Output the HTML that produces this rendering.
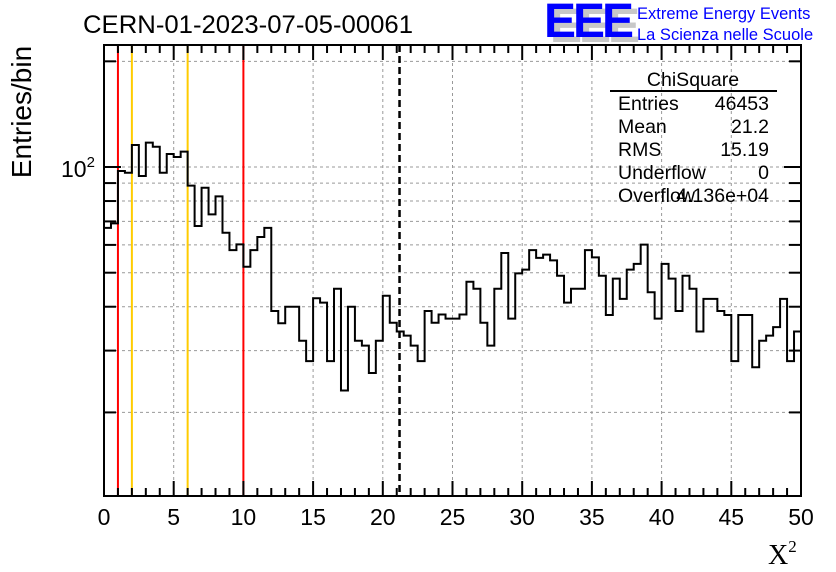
<!DOCTYPE html>
<html><head><meta charset="utf-8"><style>
html,body{margin:0;padding:0;background:#fff;}
svg{display:block;font-family:"Liberation Sans",sans-serif;}
</style></head><body>
<svg id="chart" width="836" height="572" viewBox="0 0 836 572">
<rect width="836" height="572" fill="#fff"/>
<g id="grid"></g>
<g id="vlines"></g>
<path id="hist" fill="none" stroke="#000" stroke-width="2"/>
<g id="axes"></g>
<text x="83" y="33" font-size="25" textLength="330" lengthAdjust="spacingAndGlyphs">CERN-01-2023-07-05-00061</text>
<text transform="translate(31,112) rotate(-90)" text-anchor="middle" font-size="28">Entries/bin</text>
<text x="768" y="564" font-family="Liberation Serif,serif" font-size="28">X<tspan dy="-12" font-size="17">2</tspan></text>
<g>
<text x="550" y="42" font-size="48" font-weight="bold" fill="#c8c8c8" letter-spacing="-3">EEE</text>
<text x="544" y="37" font-size="48" font-weight="bold" fill="#0000ff" letter-spacing="-3">EEE</text>
<text x="637" y="19" font-size="16.5" fill="#0000ff">Extreme Energy Events</text>
<text x="637" y="40" font-size="16.5" fill="#0000ff">La Scienza nelle Scuole</text>
</g>
<g font-size="19.5">
<text x="693" y="86" text-anchor="middle">ChiSquare</text>
<line x1="610" y1="91" x2="777" y2="91" stroke="#000" stroke-width="2"/>
<text x="618" y="110">Entries</text><text x="769" y="110" text-anchor="end">46453</text>
<text x="618" y="133">Mean</text><text x="769" y="133" text-anchor="end">21.2</text>
<text x="618" y="156">RMS</text><text x="769" y="156" text-anchor="end">15.19</text>
<text x="618" y="179">Underflow</text><text x="769" y="179" text-anchor="end">0</text>
<text x="618" y="202">Overflow</text><text x="769" y="202" text-anchor="end">4.136e+04</text>
</g>
</svg>
<script>
const counts=[67.1,69.1,97.4,96.3,115.5,94.3,117.3,114.2,96.3,108.9,106.8,110.6,88.5,67.9,87.3,73.3,82.5,65.0,58.0,60.2,
52.0,58.0,63.2,67.1,38.9,35.9,40.0,40.0,32.0,28.0,42.3,41.1,28.0,45.0,23.1,40.0,32.0,31.0,25.9,32.0,
43.0,36.0,34.0,33.1,31.0,28.0,38.9,36.0,38.0,37.0,37.0,38.0,47.1,45.0,36.0,31.0,45.0,56.9,37.0,49.8,
51.0,58.0,55.1,56.3,54.2,49.0,41.1,45.0,45.0,58.0,55.3,49.0,37.9,48.1,42.1,51.0,53.0,60.1,44.0,37.0,
53.0,48.1,38.9,49.0,45.0,34.0,42.1,42.1,38.9,37.9,28.0,37.9,37.9,26.9,32.0,33.1,35.0,42.1,28.0,34.0];
const xTicks=[0,5,10,15,20,25,30,35,40,45,50];
const yGridVals=[20,30,40,50,60,70,80,90,100,200];
const redLines=[1,10];
const orangeLines=[2,6];
const meanLine=[21.2];
const X0=104,X1=801,Y0=45,Y1=496,XMIN=0,XMAX=50,YMIN=11.56,YMAX=222.6,BW=0.5;
const sx=v=>X0+(v-XMIN)/(XMAX-XMIN)*(X1-X0);
const sy=v=>Y1-(Math.log10(v)-Math.log10(YMIN))/(Math.log10(YMAX)-Math.log10(YMIN))*(Y1-Y0);
const NS="http://www.w3.org/2000/svg";
function mk(parent,tag,attrs){const e=document.createElementNS(NS,tag);for(const k in attrs)e.setAttribute(k,attrs[k]);document.getElementById(parent).appendChild(e);return e;}
xTicks.forEach(t=>{if(t>XMIN&&t<XMAX){const l=mk('grid','line',{x1:sx(t),x2:sx(t),y1:Y0,y2:Y1,stroke:'#999','stroke-dasharray':'3,3'});

}});
yGridVals.forEach(v=>{const l=mk('grid','line',{x1:X0,x2:X1,y1:sy(v),y2:sy(v),stroke:'#999','stroke-dasharray':'3,3'});

});
redLines.forEach(v=>{const l=mk('vlines','line',{x1:sx(v),x2:sx(v),y1:Y0,y2:Y1,stroke:'#ff0000','stroke-width':2});

});
orangeLines.forEach(v=>{const l=mk('vlines','line',{x1:sx(v),x2:sx(v),y1:Y0,y2:Y1,stroke:'#ffcc00','stroke-width':2});

});
meanLine.forEach(v=>{const l=mk('vlines','line',{x1:sx(v),x2:sx(v),y1:Y0,y2:Y1,stroke:'#000','stroke-width':2.5,'stroke-dasharray':'7,4'});

});
let d='';
counts.forEach((c,i)=>{const xa=sx(i*BW),xb=sx((i+1)*BW),y=sy(c);d+=(i===0?'M'+xa+','+y:'L'+xa+','+y)+'L'+xb+','+y;});
document.getElementById('hist').setAttribute('d',d);
const f=mk('axes','rect',{x:X0,y:Y0,width:X1-X0,height:Y1-Y0,fill:'none',stroke:'#000','stroke-width':2});


for(let t=XMIN;t<=XMAX;t+=1){const major=t%5===0;const L=major?15:8;
mk('axes','line',{x1:sx(t),x2:sx(t),y1:Y1,y2:Y1-L,stroke:'#000','stroke-width':2});
mk('axes','line',{x1:sx(t),x2:sx(t),y1:Y0,y2:Y0+L,stroke:'#000','stroke-width':2});}
xTicks.forEach(t=>{const tx=mk('axes','text',{x:sx(t),y:525,'text-anchor':'middle','font-size':23});tx.textContent=t;

});
yGridVals.forEach(v=>{const L=v===100?17:12;
mk('axes','line',{x1:X0,x2:X0+L,y1:sy(v),y2:sy(v),stroke:'#000','stroke-width':2});
mk('axes','line',{x1:X1,x2:X1-L,y1:sy(v),y2:sy(v),stroke:'#000','stroke-width':2});});
const yl=mk('axes','text',{x:61,y:sy(100)+10,'font-size':23});
yl.innerHTML='10<tspan dy="-10" font-size="15">2</tspan>';


</script>
</body></html>
